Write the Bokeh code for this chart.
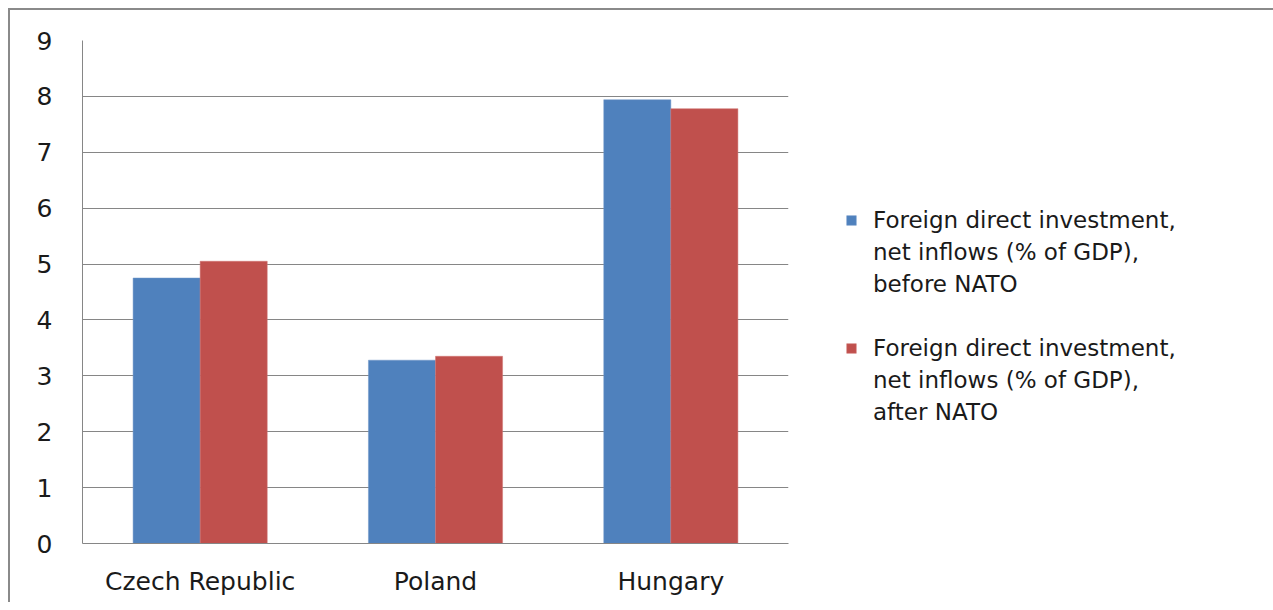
from bokeh.plotting import figure
from bokeh.models import ColumnDataSource, FactorRange, Range1d, Legend, LegendItem, FixedTicker
from bokeh.transform import dodge
from bokeh.embed import file_html
from bokeh.resources import INLINE

categories = ["Czech Republic", "Poland", "Hungary"]
before_nato = [4.75, 3.28, 7.94]
after_nato = [5.05, 3.35, 7.78]
y_ticks = [0, 1, 2, 3, 4, 5, 6, 7, 8, 9]
label_before = ["Foreign direct investment,", "net inflows (% of GDP),", "before NATO"]
label_after = ["Foreign direct investment,", "net inflows (% of GDP),", "after NATO"]

src = ColumnDataSource(dict(cat=categories, before=before_nato, after=after_nato))

FONT = "DejaVu Sans"
GRID = "#868686"

p = figure(x_range=FactorRange(*categories, range_padding=0), y_range=Range1d(0, 9),
           frame_width=706, frame_height=503, output_backend="svg", toolbar_location=None,
           min_border_left=72, min_border_right=144, min_border_top=30, min_border_bottom=59)
p.styles = {"border-left": "2px solid #8a8a8a", "border-top": "2px solid #8a8a8a",
            "margin-left": "8px", "margin-top": "8px"}
p.outline_line_color = None
p.background_fill_color = "white"
p.border_fill_color = "white"

bw = 0.285
r1 = p.vbar(x=dodge("cat", -bw / 2, range=p.x_range), top="before", width=bw, bottom=0,
            source=src, fill_color="#4F81BD", line_color="#6f97c9", line_width=0.5)
r2 = p.vbar(x=dodge("cat", bw / 2, range=p.x_range), top="after", width=bw, bottom=0,
            source=src, fill_color="#C0504D", line_color="#d07572", line_width=0.5)
# invisible renderer used only for continuation lines of the legend labels
blank = p.vbar(x=[], top=[], width=bw, fill_alpha=0, line_alpha=0)

p.xgrid.grid_line_color = None
p.ygrid.grid_line_color = GRID
p.ygrid.grid_line_width = 1
p.yaxis.ticker = FixedTicker(ticks=y_ticks)

for ax in (p.xaxis, p.yaxis):
    ax.axis_line_color = GRID
    ax.axis_line_width = 1
    ax.major_tick_line_color = None
    ax.minor_tick_line_color = None
    ax.major_tick_out = 0
    ax.major_tick_in = 0
    ax.major_label_text_font = FONT
    ax.major_label_text_font_size = "25px"
    ax.major_label_text_color = "#1a1a1a"

p.yaxis.major_label_standoff = 30
p.xaxis.major_label_standoff = 23

items = [LegendItem(label=label_before[0], renderers=[r1]),
         LegendItem(label=label_before[1], renderers=[blank]),
         LegendItem(label=label_before[2], renderers=[blank]),
         LegendItem(label=" ", renderers=[blank]),
         LegendItem(label=label_after[0], renderers=[r2]),
         LegendItem(label=label_after[1], renderers=[blank]),
         LegendItem(label=label_after[2], renderers=[blank])]

legend = Legend(items=items, location=(57, 118))
legend.border_line_color = None
legend.background_fill_alpha = 0
legend.padding = 0
legend.margin = 0
legend.glyph_width = 12
legend.glyph_height = 12
legend.label_height = 27
legend.label_standoff = 16
legend.spacing = 5
legend.label_text_font = FONT
legend.label_text_font_size = "23px"
legend.label_text_color = "#1a1a1a"
p.add_layout(legend, "right")

open("out.html", "w").write(file_html(p, INLINE))
